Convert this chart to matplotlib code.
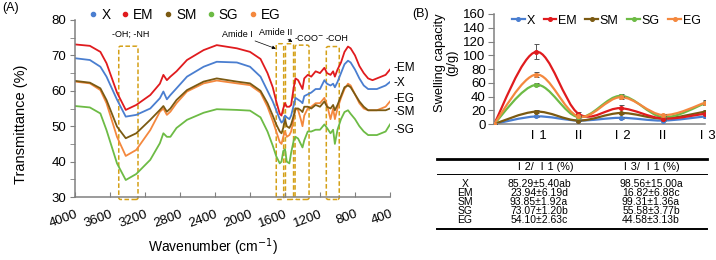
import matplotlib
matplotlib.use("Agg")
import matplotlib.pyplot as plt
from matplotlib.path import Path
from matplotlib.patches import PathPatch, FancyBboxPatch
from matplotlib.lines import Line2D

plt.rcParams["font.family"] = ["Liberation Sans", "Noto Sans CJK SC", "DejaVu Sans"]

# ---- (A) FTIR spectra ----
wavenumber = [4000, 3830, 3710, 3640, 3520, 3420, 3300, 3140, 3030, 2990, 2950, 2910, 2840, 2720,
              2530, 2380, 2150, 2000, 1880,
              1800, 1740, 1700, 1660, 1640, 1620, 1600, 1580, 1550, 1530, 1500, 1480, 1450, 1420,
              1400, 1380, 1340, 1300, 1250, 1200, 1150, 1120, 1080, 1050, 1030, 1000, 960, 920,
              880, 850, 800, 750, 700, 650, 600, 550, 500, 450, 400]

t_EM = [73.1, 72.7, 71.0, 67.8, 59.5, 54.6, 56.0, 58.8, 62.0, 64.5, 63.0, 64.0, 65.5, 68.7,
        71.5, 72.9, 72.0, 71.0, 69.0,
        65.0, 61.0, 57.0, 53.5, 53.0, 55.0, 56.5, 55.5, 55.5, 56.0, 61.0, 63.5, 63.0, 61.5,
        60.5, 63.5, 64.5, 64.0, 65.5, 65.0, 66.5, 65.0, 64.5, 65.5, 64.0, 66.0, 68.0, 71.0,
        72.5, 72.0, 70.0, 67.0, 65.0, 63.5, 63.0, 63.5, 64.0, 64.5, 66.0]
t_X = [69.2, 68.7, 66.8, 64.0, 57.5, 52.7, 53.2, 55.0, 57.9, 59.8, 57.6, 58.8, 60.7, 64.0,
       66.8, 68.2, 68.0, 66.8, 64.0,
       60.0, 57.0, 54.5, 52.0, 51.0, 51.5, 53.0, 52.5, 52.0, 53.0, 56.0, 58.0, 57.5, 57.0,
       56.5, 58.5, 59.0, 59.5, 60.5, 60.5, 63.0, 62.0, 61.5, 62.0, 61.0, 62.5, 65.0, 67.5,
       68.5, 68.0, 66.0, 63.5, 61.5, 60.5, 60.5, 60.5, 61.0, 61.5, 62.5]
t_SM = [62.8, 62.3, 60.7, 57.4, 49.9, 46.6, 48.0, 51.8, 54.6, 55.7, 54.1, 55.0, 57.4, 60.2,
        62.6, 63.5, 62.6, 62.1, 60.0,
        56.5, 53.0, 50.5, 48.5, 48.0, 49.5, 52.0, 50.0, 49.5, 50.5, 53.0, 55.0, 55.0, 54.5,
        54.0, 55.5, 55.5, 55.0, 56.0, 55.5, 57.0, 55.5, 55.0, 56.0, 54.5, 56.0, 58.5, 61.0,
        61.5, 61.0, 59.0, 57.0, 55.5, 54.5, 54.5, 54.5, 54.5, 54.5, 55.0]
t_EG = [62.6, 62.1, 60.2, 56.5, 47.0, 41.6, 43.3, 48.9, 54.1, 55.0, 53.2, 54.1, 56.5, 59.8,
        62.1, 62.9, 62.1, 61.6, 59.5,
        55.5, 51.5, 48.5, 45.5, 45.0, 47.0, 48.5, 47.0, 47.5, 48.5, 52.0, 55.0, 54.5, 52.0,
        50.0, 53.0, 55.0, 55.5, 56.5, 56.5, 58.0, 56.0, 52.0, 55.0, 52.0, 55.0, 58.0, 60.5,
        62.0, 61.5, 59.0, 56.5, 55.0, 54.5, 54.5, 54.5, 55.0, 55.5, 57.0]
t_SG = [55.7, 55.3, 53.6, 48.9, 39.5, 34.8, 36.5, 40.5, 45.2, 48.0, 47.0, 47.0, 49.5, 51.8,
        53.8, 54.8, 54.6, 54.4, 52.5,
        48.5, 44.5, 41.5, 39.5, 40.0, 43.0, 43.5, 40.0, 39.5, 42.5, 46.0, 47.0, 46.5, 45.0,
        44.0, 46.0, 48.5, 48.5, 49.0, 49.0, 50.5, 49.5, 48.0, 49.0, 45.0, 49.0, 52.0, 54.0,
        54.5, 53.5, 52.0, 50.0, 48.5, 47.5, 47.5, 47.5, 48.0, 48.5, 50.5]

names = ["X", "EM", "SM", "SG", "EG"]
colors = {"X": "#4a7ed0", "EM": "#e01b1e", "SM": "#7b5a12", "SG": "#6dbb45", "EG": "#f4883e"}
end_labels = {"EM": 66.4, "X": 62.3, "EG": 57.8, "SM": 54.1, "SG": 48.9}

# marked bands: (low, high, top)
bands = [(3280, 3500, 72.6), (1615, 1700, 73.3), (1502, 1595, 73.3), (1325, 1485, 72.9), (980, 1128, 72.5)]

# ---- (B) swelling ----
stages = ["", "Ⅰ1", "Ⅱ", "Ⅰ2", "Ⅱ", "Ⅰ3"]
sw_X = [0, 11, 5, 9, 5, 11]
sw_EM = [0, 105, 15, 23, 8, 15]
sw_SM = [0, 18, 5, 16, 8, 18]
sw_SG = [0, 57, 10, 41, 10, 30]
sw_EG = [0, 72, 11, 39, 13, 31]
err_X = [0, 1, 1, 1, 1, 2]
err_EM = [0, 11, 2, 5, 1, 2]
err_SM = [0, 2, 1, 2, 1, 3]
err_SG = [0, 2, 1, 2, 1, 3]
err_EG = [0, 3, 1, 2, 1, 4]

ratio_2_1 = ["85.29±5.40ab", "23.94±6.19d", "93.85±1.92a", "73.07±1.20b", "54.10±2.63c"]
ratio_3_1 = ["98.56±15.00a", "16.82±6.88c", "99.31±1.36a", "55.58±3.77b", "44.58±3.13b"]
table_head = ["Ⅰ2/ Ⅰ1 (%)", "Ⅰ3/ Ⅰ1 (%)"]

spectra = {"X": t_X, "EM": t_EM, "SM": t_SM, "SG": t_SG, "EG": t_EG}
swell = {"X": (sw_X, err_X), "EM": (sw_EM, err_EM), "SM": (sw_SM, err_SM),
         "SG": (sw_SG, err_SG), "EG": (sw_EG, err_EG)}

gray = "#808080"
fig = plt.figure(figsize=(7.16, 2.6), dpi=100)

# ================= panel A =================
ax = fig.add_axes([75 / 716, 1 - 197 / 260, 315 / 716, 177 / 260])
for n in ["SG", "EG", "SM", "X", "EM"]:
    ax.plot(wavenumber, spectra[n], color=colors[n], lw=1.3)
ax.set_xlim(4000, 400)
ax.set_ylim(30, 80)
ax.set_xticks(range(4000, 399, -400))
ax.set_yticks(range(30, 81, 10))
ax.set_yticks(range(35, 80, 10), minor=True)
for s in ["top", "right"]:
    ax.spines[s].set_visible(False)
for s in ["left", "bottom"]:
    ax.spines[s].set_color(gray)
    ax.spines[s].set_linewidth(1.1)
ax.tick_params(axis="x", direction="in", length=3.5, color=gray, labelsize=9.5, pad=8)
ax.tick_params(axis="y", which="both", direction="out", length=3.5, color=gray, labelsize=9.5, pad=3)
for lab in ax.get_xticklabels():
    lab.set_rotation(20)
    lab.set_ha("right")
    lab.set_va("top")
    lab.set_rotation_mode("anchor")
ax.set_xlabel("Wavenumber (cm$^{-1}$)", fontsize=10)
ax.xaxis.set_label_coords(0.438, -0.225)
ax.set_ylabel("Transmittance (%)", fontsize=10.5)
ax.yaxis.set_label_coords(-0.149, 0.41)

for lo, hi, top in bands:
    box = FancyBboxPatch((lo, 29.3), hi - lo, top - 29.3,
                         boxstyle="round,pad=0,rounding_size=22", mutation_aspect=0.0247,
                         fill=False, ec="#d4a017", lw=1.1, ls=(0, (3, 1.6)), clip_on=False)
    ax.add_patch(box)

ax.text(3366, 76, "-OH; -NH", fontsize=6.5, ha="center", va="center")
ax.text(1330, 74.8, "-COO$^{-}$", fontsize=6.5, ha="center", va="center")
ax.text(1005, 74.8, "-COH", fontsize=6.5, ha="center", va="center")
ax.annotate("Amide I", xy=(1705, 71.9), xytext=(2150, 76), fontsize=6.5, ha="center", va="center",
            arrowprops=dict(arrowstyle="-|>", lw=0.5, color="black", mutation_scale=5,
                            shrinkA=0, shrinkB=0))
ax.annotate("Amide II", xy=(1515, 73.8), xytext=(1708, 76.6), fontsize=6.5, ha="center", va="center",
            arrowprops=dict(arrowstyle="-|>", lw=0.5, color="black", mutation_scale=5,
                            shrinkA=0, shrinkB=0))

for n, yv in end_labels.items():
    ax.text(365, yv, "-" + n, fontsize=8.5, ha="left", va="center", clip_on=False)

hA = [Line2D([], [], ls="", marker="o", ms=3, color=colors[n]) for n in names]
ax.legend(hA, names, loc="center", bbox_to_anchor=(0.35, 1.028), ncol=5, frameon=False,
          fontsize=9.8, handlelength=0.5, handletextpad=0.35, columnspacing=0.8,
          borderpad=0)

fig.text(2 / 716, 1 - 8 / 260, "(A)", fontsize=9, va="center", ha="left")


# ================= panel B =================
def smooth_path(xs, ys):
    # Excel style smoothed line: cubic bezier through the points
    verts = [(xs[0], ys[0])]
    codes = [Path.MOVETO]
    n = len(xs)
    for i in range(n - 1):
        a = max(i - 1, 0)
        b = min(i + 2, n - 1)
        c1 = (xs[i] + (xs[i + 1] - xs[a]) / 6, ys[i] + (ys[i + 1] - ys[a]) / 6)
        c2 = (xs[i + 1] - (xs[b] - xs[i]) / 6, ys[i + 1] - (ys[b] - ys[i]) / 6)
        verts += [c1, c2, (xs[i + 1], ys[i + 1])]
        codes += [Path.CURVE4] * 3
    return Path(verts, codes)


axb = fig.add_axes([494 / 716, 1 - 124 / 260, 211 / 716, 110 / 260])
pos = list(range(len(stages)))
for n in ["X", "SM", "SG", "EM", "EG"]:
    vals, errs = swell[n]
    axb.add_patch(PathPatch(smooth_path(pos, vals), fc="none", ec=colors[n], lw=1.6, zorder=2))
    axb.errorbar(pos, vals, yerr=errs, fmt="none", ecolor="#555555", elinewidth=0.7,
                 capsize=1.8, capthick=0.7, zorder=3)
    axb.plot(pos, vals, ls="", marker="o", ms=2.6, color=colors[n], zorder=4)
axb.set_xlim(0, 5)
axb.set_ylim(0, 160)
axb.set_yticks(range(0, 161, 20))
axb.set_xticks(pos)
axb.set_xticklabels(stages)
for s in ["top", "right"]:
    axb.spines[s].set_visible(False)
for s in ["left", "bottom"]:
    axb.spines[s].set_color(gray)
    axb.spines[s].set_linewidth(1.1)
axb.tick_params(axis="y", direction="out", length=4, color=gray, labelsize=9.5, pad=2)
axb.tick_params(axis="x", direction="out", length=0, labelsize=9.5, pad=4)
axb.set_ylabel("Swelling capacity\n(g/g)", fontsize=9.3, multialignment="center", linespacing=1.0)
axb.yaxis.set_label_coords(-0.17, 0.56)

hB = [Line2D([], [], color=colors[n], lw=1.6, marker="o", ms=2.6) for n in names]
axb.legend(hB, names, loc="center", bbox_to_anchor=(0.533, 0.94), ncol=5, frameon=False,
           fontsize=9, handlelength=1.0, handletextpad=0.15, columnspacing=0.7, borderpad=0)

fig.text(412 / 716, 1 - 14 / 260, "(B)", fontsize=9, va="center", ha="left")

# ---- table under (B) ----
tab = fig.add_axes([0, 0, 1, 1])
tab.set_xlim(0, 716)
tab.set_ylim(260, 0)
tab.axis("off")
tab.plot([437, 707], [159, 159], color="black", lw=2.0)
tab.plot([437, 707], [174, 174], color="black", lw=0.7)
tab.plot([437, 707], [228.5, 228.5], color="black", lw=1.4)
tab.text(544, 166.5, table_head[0], fontsize=7.8, ha="center", va="center")
tab.text(650, 166.5, table_head[1], fontsize=7.8, ha="center", va="center")
row_y = [184, 193, 202, 211, 220]
for i, n in enumerate(names):
    tab.text(465, row_y[i], n, fontsize=7.5, ha="center", va="center")
    tab.text(539, row_y[i], ratio_2_1[i], fontsize=7.5, ha="center", va="center")
    tab.text(651, row_y[i], ratio_3_1[i], fontsize=7.5, ha="center", va="center")

fig.savefig("out.png", dpi=100)
